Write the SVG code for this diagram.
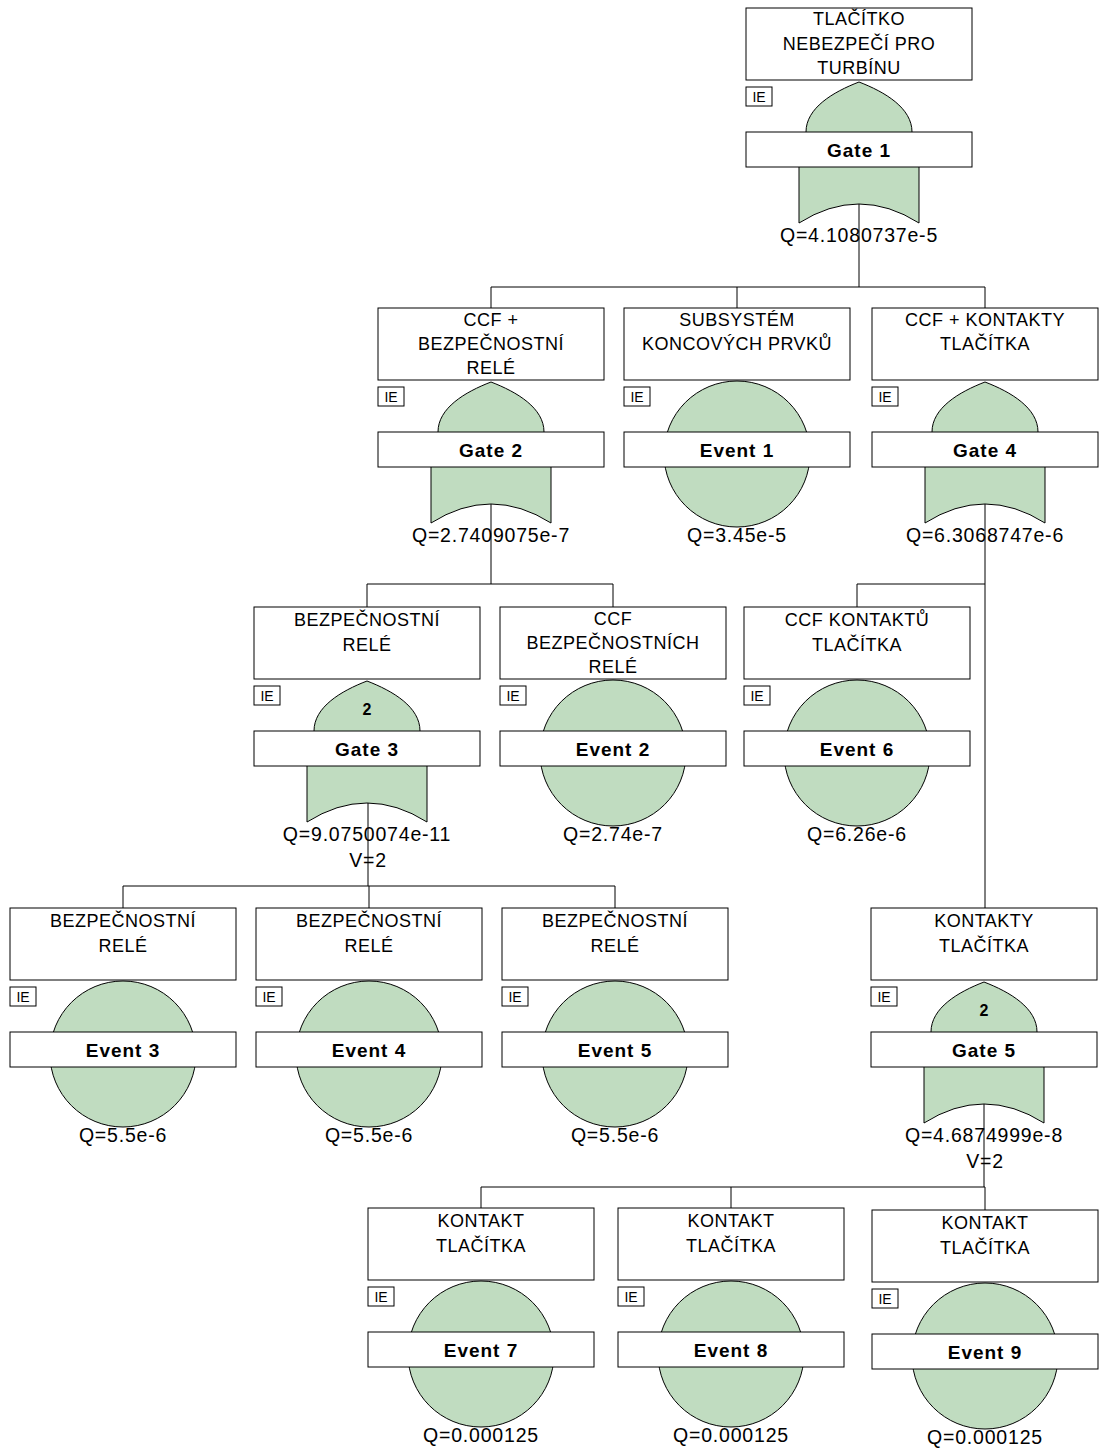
<svg xmlns="http://www.w3.org/2000/svg" xmlns:xlink="http://www.w3.org/1999/xlink" width="1099" height="1450" viewBox="0 0 1099 1450">
  <style>
    .box { fill: #ffffff; stroke: #000000; stroke-width: 1; }
    .ie { fill: #ffffff; stroke: #000000; stroke-width: 1; }
    .sym { fill: #c0dcc0; stroke: #000000; stroke-width: 1; }
    .wire { fill: none; stroke: #000000; stroke-width: 1; }
    text { font-family: "Liberation Sans", Arial, sans-serif; fill: #000000; text-anchor: middle; }
    .title { font-size: 18px; letter-spacing: 0.5px; }
    .lbl { font-size: 19px; font-weight: bold; letter-spacing: 1px; }
    .q { font-size: 19.5px; letter-spacing: 0.8px; }
    .iet { font-size: 14px; }
    .k { font-size: 16px; font-weight: bold; }
  </style>
  <defs>
    <!-- OR gate outline, origin = node centre x / title box top -->
    <path id="orGate" class="sym" d="M0,74 C-26,84 -53,100 -53,124 L-60,159 L-60,215 Q0,177 60,215 L60,159 L53,124 C53,100 26,84 0,74 Z"/>
    <!-- basic event circle -->
    <circle id="basicEvent" class="sym" cx="0" cy="146" r="73"/>
    <!-- title box, IE tag and label bar -->
    <rect id="titleBox" class="box" x="-113" y="0" width="226" height="72"/>
    <rect id="ieBox" class="ie" x="-113" y="79" width="26" height="19"/>
    <rect id="labelBox" class="box" x="-113" y="124" width="226" height="35"/>
  </defs>

  <!-- connectors -->
  <g id="connectors" class="wire">
    <path d="M859,204 V287 M491,287 H985 M491,287 V308 M737,287 V308 M985,287 V308"/>
    <path d="M491,504 V584 M367,584 H613 M367,584 V607 M613,584 V607"/>
    <path d="M985,504 V908 M857,584 H985 M857,584 V607"/>
    <path d="M368,803 V886 M123,886 H615 M123,886 V908 M369,886 V908 M615,886 V908"/>
    <path d="M984,1104 V1187 M481,1187 H985 M481,1187 V1208 M731,1187 V1208 M985,1187 V1210"/>
  </g>

  <!-- Gate 1 -->
  <g id="gate1" transform="translate(859,8)">
    <use href="#titleBox"/><use href="#ieBox"/><use href="#orGate"/><use href="#labelBox"/>
    <text class="title" x="0" y="17">TLAČÍTKO</text>
    <text class="title" x="0" y="42">NEBEZPEČÍ PRO</text>
    <text class="title" x="0" y="66">TURBÍNU</text>
    <text class="iet" x="-100" y="94">IE</text>
    <text class="lbl" x="0" y="149">Gate 1</text>
    <text class="q" x="0" y="234">Q=4.1080737e-5</text>
  </g>

  <!-- Gate 2 -->
  <g id="gate2" transform="translate(491,308)">
    <use href="#titleBox"/><use href="#ieBox"/><use href="#orGate"/><use href="#labelBox"/>
    <text class="title" x="0" y="18">CCF +</text>
    <text class="title" x="0" y="42">BEZPEČNOSTNÍ</text>
    <text class="title" x="0" y="66">RELÉ</text>
    <text class="iet" x="-100" y="94">IE</text>
    <text class="lbl" x="0" y="149">Gate 2</text>
    <text class="q" x="0" y="234">Q=2.7409075e-7</text>
  </g>

  <!-- Event 1 -->
  <g id="event1" transform="translate(737,308)">
    <use href="#titleBox"/><use href="#ieBox"/><use href="#basicEvent"/><use href="#labelBox"/>
    <text class="title" x="0" y="18">SUBSYSTÉM</text>
    <text class="title" x="0" y="42">KONCOVÝCH PRVKŮ</text>
    <text class="iet" x="-100" y="94">IE</text>
    <text class="lbl" x="0" y="149">Event 1</text>
    <text class="q" x="0" y="234">Q=3.45e-5</text>
  </g>

  <!-- Gate 4 -->
  <g id="gate4" transform="translate(985,308)">
    <use href="#titleBox"/><use href="#ieBox"/><use href="#orGate"/><use href="#labelBox"/>
    <text class="title" x="0" y="18">CCF + KONTAKTY</text>
    <text class="title" x="0" y="42">TLAČÍTKA</text>
    <text class="iet" x="-100" y="94">IE</text>
    <text class="lbl" x="0" y="149">Gate 4</text>
    <text class="q" x="0" y="234">Q=6.3068747e-6</text>
  </g>

  <!-- Gate 3 (2-out-of-3 vote) -->
  <g id="gate3" transform="translate(367,607)">
    <use href="#titleBox"/><use href="#ieBox"/><use href="#orGate"/><use href="#labelBox"/>
    <text class="title" x="0" y="19">BEZPEČNOSTNÍ</text>
    <text class="title" x="0" y="44">RELÉ</text>
    <text class="iet" x="-100" y="94">IE</text>
    <text class="k" x="0" y="108">2</text>
    <text class="lbl" x="0" y="149">Gate 3</text>
    <text class="q" x="0" y="234">Q=9.0750074e-11</text>
    <text class="q" x="1" y="260">V=2</text>
  </g>

  <!-- Event 2 -->
  <g id="event2" transform="translate(613,607)">
    <use href="#titleBox"/><use href="#ieBox"/><use href="#basicEvent"/><use href="#labelBox"/>
    <text class="title" x="0" y="18">CCF</text>
    <text class="title" x="0" y="42">BEZPEČNOSTNÍCH</text>
    <text class="title" x="0" y="66">RELÉ</text>
    <text class="iet" x="-100" y="94">IE</text>
    <text class="lbl" x="0" y="149">Event 2</text>
    <text class="q" x="0" y="234">Q=2.74e-7</text>
  </g>

  <!-- Event 6 -->
  <g id="event6" transform="translate(857,607)">
    <use href="#titleBox"/><use href="#ieBox"/><use href="#basicEvent"/><use href="#labelBox"/>
    <text class="title" x="0" y="19">CCF KONTAKTŮ</text>
    <text class="title" x="0" y="44">TLAČÍTKA</text>
    <text class="iet" x="-100" y="94">IE</text>
    <text class="lbl" x="0" y="149">Event 6</text>
    <text class="q" x="0" y="234">Q=6.26e-6</text>
  </g>

  <!-- Event 3 -->
  <g id="event3" transform="translate(123,908)">
    <use href="#titleBox"/><use href="#ieBox"/><use href="#basicEvent"/><use href="#labelBox"/>
    <text class="title" x="0" y="19">BEZPEČNOSTNÍ</text>
    <text class="title" x="0" y="44">RELÉ</text>
    <text class="iet" x="-100" y="94">IE</text>
    <text class="lbl" x="0" y="149">Event 3</text>
    <text class="q" x="0" y="234">Q=5.5e-6</text>
  </g>

  <!-- Event 4 -->
  <g id="event4" transform="translate(369,908)">
    <use href="#titleBox"/><use href="#ieBox"/><use href="#basicEvent"/><use href="#labelBox"/>
    <text class="title" x="0" y="19">BEZPEČNOSTNÍ</text>
    <text class="title" x="0" y="44">RELÉ</text>
    <text class="iet" x="-100" y="94">IE</text>
    <text class="lbl" x="0" y="149">Event 4</text>
    <text class="q" x="0" y="234">Q=5.5e-6</text>
  </g>

  <!-- Event 5 -->
  <g id="event5" transform="translate(615,908)">
    <use href="#titleBox"/><use href="#ieBox"/><use href="#basicEvent"/><use href="#labelBox"/>
    <text class="title" x="0" y="19">BEZPEČNOSTNÍ</text>
    <text class="title" x="0" y="44">RELÉ</text>
    <text class="iet" x="-100" y="94">IE</text>
    <text class="lbl" x="0" y="149">Event 5</text>
    <text class="q" x="0" y="234">Q=5.5e-6</text>
  </g>

  <!-- Gate 5 (2-out-of-3 vote) -->
  <g id="gate5" transform="translate(984,908)">
    <use href="#titleBox"/><use href="#ieBox"/><use href="#orGate"/><use href="#labelBox"/>
    <text class="title" x="0" y="19">KONTAKTY</text>
    <text class="title" x="0" y="44">TLAČÍTKA</text>
    <text class="iet" x="-100" y="94">IE</text>
    <text class="k" x="0" y="108">2</text>
    <text class="lbl" x="0" y="149">Gate 5</text>
    <text class="q" x="0" y="234">Q=4.6874999e-8</text>
    <text class="q" x="1" y="260">V=2</text>
  </g>

  <!-- Event 7 -->
  <g id="event7" transform="translate(481,1208)">
    <use href="#titleBox"/><use href="#ieBox"/><use href="#basicEvent"/><use href="#labelBox"/>
    <text class="title" x="0" y="19">KONTAKT</text>
    <text class="title" x="0" y="44">TLAČÍTKA</text>
    <text class="iet" x="-100" y="94">IE</text>
    <text class="lbl" x="0" y="149">Event 7</text>
    <text class="q" x="0" y="234">Q=0.000125</text>
  </g>

  <!-- Event 8 -->
  <g id="event8" transform="translate(731,1208)">
    <use href="#titleBox"/><use href="#ieBox"/><use href="#basicEvent"/><use href="#labelBox"/>
    <text class="title" x="0" y="19">KONTAKT</text>
    <text class="title" x="0" y="44">TLAČÍTKA</text>
    <text class="iet" x="-100" y="94">IE</text>
    <text class="lbl" x="0" y="149">Event 8</text>
    <text class="q" x="0" y="234">Q=0.000125</text>
  </g>

  <!-- Event 9 -->
  <g id="event9" transform="translate(985,1210)">
    <use href="#titleBox"/><use href="#ieBox"/><use href="#basicEvent"/><use href="#labelBox"/>
    <text class="title" x="0" y="19">KONTAKT</text>
    <text class="title" x="0" y="44">TLAČÍTKA</text>
    <text class="iet" x="-100" y="94">IE</text>
    <text class="lbl" x="0" y="149">Event 9</text>
    <text class="q" x="0" y="234">Q=0.000125</text>
  </g>
</svg>
